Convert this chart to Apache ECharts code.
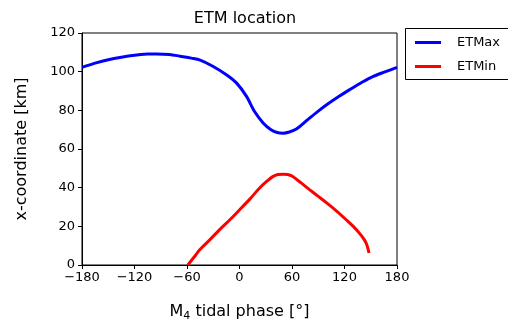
<!DOCTYPE html>
<html>
<head>
<meta charset="utf-8">
<script src="https://cdn.jsdelivr.net/npm/echarts@6/dist/echarts.min.js"></script>
<style>html,body{margin:0;padding:0;background:#fff}#c{width:508px;height:323px}</style>
</head>
<body>
<div id="c"></div>
<script>
const etmaxX = [-180,-165,-150,-135,-120,-105,-95,-80,-68,-55,-45,-30,-15,-3.5,8,17,27,36,43,50,57,65,78,90,100,113,126,140,153,167,180];
const etmaxY = [102.2,104.4,106.2,107.5,108.5,109.1,109.2,108.9,108,107,106,102.7,98.4,94.2,87.2,79.5,73.5,70,68.5,68.2,68.8,70.3,75.2,79.6,83,87,90.7,94.5,97.6,100,102.2];
const etminX = [-59,-52,-45.5,-34,-22.6,-11,0.2,12,23,31,38,44,50,55,60,70,80,90,100,111,122,130,137,142,145.5,148];
const etminY = [0,4,7.9,13,18.3,23.4,28.6,34.2,39.8,43.2,45.7,46.8,47,46.8,46,42.6,39,35.5,32,27.9,23.4,20,16.5,13.5,10.5,6.2];
const xTicks = [-180,-120,-60,0,60,120,180];
const yTicks = [0,20,40,60,80,100,120];

const chart = echarts.init(document.getElementById('c'), null, {renderer:'canvas'});
const font = 'DejaVu Sans';
const zip = (a,b)=>a.map((v,i)=>[v,b[i]]);
chart.setOption({
  animation:false,
  backgroundColor:'#fff',
  textStyle:{fontFamily:font},
  title:{text:'ETM location', left:240, top:6, textAlign:'center',
    textStyle:{fontFamily:font, fontSize:16, fontWeight:'normal', color:'#000'}},
  graphic:[{type:'rect', left:405, top:28, z:0,
    shape:{x:0, y:0, width:130, height:51},
    style:{fill:'#fff', stroke:'#000', lineWidth:1}}],
  legend:{left:405, top:28, orient:'vertical', itemWidth:26, itemHeight:3, itemGap:11,
    padding:[8,10,9,10], z:5,
    icon:'rect',
    textStyle:{fontFamily:font, fontSize:13, color:'#000', padding:[0,0,0,11]},
    data:['ETMax','ETMin']},
  grid:{left:82, right:111, top:33, bottom:58, show:true, borderColor:'#000', borderWidth:1,
    containLabel:false, outerBoundsMode:'none'},
  xAxis:{type:'value', min:-180, max:180, interval:60,
    name:'M{sub|4} tidal phase [°]', nameLocation:'middle', nameGap:36,
    nameTextStyle:{fontFamily:font, fontSize:16, color:'#000',
      rich:{sub:{fontFamily:font, fontSize:11, verticalAlign:'bottom', padding:[10,0,0,0]}}},
    axisLine:{show:true, onZero:false, lineStyle:{color:'#000', width:1}}, splitLine:{show:false},
    axisTick:{show:true, length:4, inside:false, lineStyle:{color:'#000'}},
    axisLabel:{fontFamily:font, fontSize:13, color:'#000', margin:6,
      formatter:v=>xTicks.includes(v)?String(v).replace('-','\u2212'):''}},
  yAxis:{type:'value', min:0, max:120, interval:20,
    name:'x-coordinate [km]', nameLocation:'middle', nameGap:52, nameRotate:90,
    nameTextStyle:{fontFamily:font, fontSize:16, color:'#000'},
    axisLine:{show:true, onZero:false, lineStyle:{color:'#000', width:1}}, splitLine:{show:false},
    axisTick:{show:true, length:4, inside:false, lineStyle:{color:'#000'}},
    axisLabel:{fontFamily:font, fontSize:13, color:'#000', margin:7,
      formatter:v=>yTicks.includes(v)?String(v):''}},
  series:[
    {name:'ETMax', type:'line', data:zip(etmaxX,etmaxY), smooth:0.3, showSymbol:false,
      lineStyle:{color:'#0000ff', width:3}, itemStyle:{color:'#0000ff'}, clip:true},
    {name:'ETMin', type:'line', data:zip(etminX,etminY), smooth:0.3, showSymbol:false,
      lineStyle:{color:'#ff0000', width:3}, itemStyle:{color:'#ff0000'}, clip:true}
  ]
});
</script>
</body>
</html>
